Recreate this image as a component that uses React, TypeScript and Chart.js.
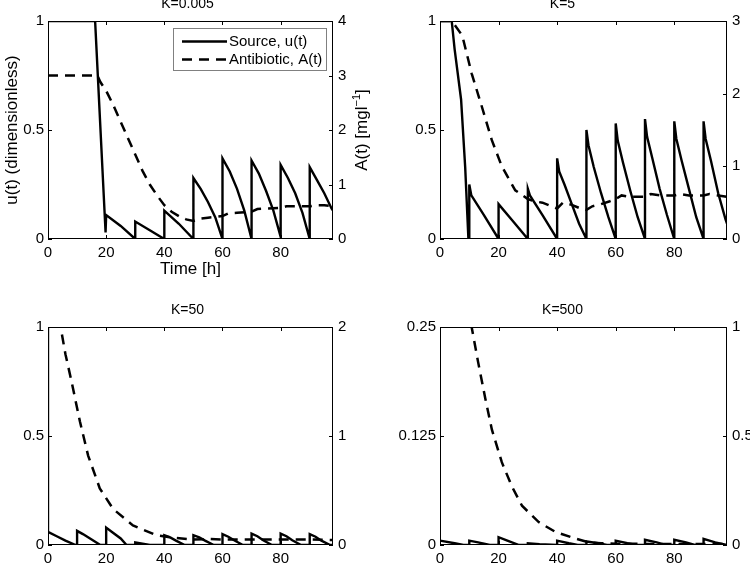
import React, { useEffect, useRef } from "react";
import { Chart, registerables } from "chart.js";

Chart.register(...registerables);

const FONT = "'Liberation Sans', Arial, Helvetica, sans-serif";

// ---------- data ----------
const xTickValues = [0, 20, 40, 60, 80];
const xMax = 98;

const panelTitles = ["K=0.005", "K=5", "K=50", "K=500"];
const leftMax = [1, 1, 1, 0.25];
const rightMax = [4, 3, 2, 1];
const leftTickValues = [
  [0, 0.5, 1],
  [0, 0.5, 1],
  [0, 0.5, 1],
  [0, 0.125, 0.25],
];
const rightTickValues = [
  [0, 1, 2, 3, 4],
  [0, 1, 2, 3],
  [0, 1, 2],
  [0, 0.5, 1],
];
const legendLabels = ["Source, u(t)", "Antibiotic, A(t)"];
const xTitle = "Time [h]";
const yLeftTitle = "u(t) (dimensionless)";
const yRightTitleParts = ["A(t) [mgl", "\u22121", "]"];

// K = 0.005
const uT1 = [0, 16.2, 19.8, 20, 25, 30, 30, 35, 40, 40, 45, 50, 50, 52.5, 55, 57.5, 60, 60, 62.5, 65, 67.5, 70, 70, 72.5, 75, 77.5, 80, 80, 82.5, 85, 87.5, 90, 90, 92.5, 95, 97.5, 98];
const uV1 = [1, 1, 0.03, 0.11, 0.06, 0, 0.08, 0.04, 0, 0.13, 0.07, 0, 0.28, 0.23, 0.17, 0.1, 0, 0.37, 0.31, 0.23, 0.13, 0, 0.36, 0.3, 0.22, 0.13, 0.01, 0.34, 0.28, 0.21, 0.12, 0, 0.33, 0.27, 0.21, 0.14, 0.13];
const aT1 = [0, 17, 18, 20, 22.5, 25, 27.5, 30, 32.5, 35, 37.5, 40, 42.5, 45, 47.5, 50, 52, 55, 60, 62, 65, 70, 72, 75, 80, 82, 85, 90, 92, 95, 98];
const aV1 = [3, 3, 2.88, 2.72, 2.45, 2.15, 1.85, 1.55, 1.25, 1.0, 0.8, 0.62, 0.5, 0.42, 0.36, 0.33, 0.37, 0.39, 0.42, 0.47, 0.48, 0.5, 0.55, 0.56, 0.57, 0.6, 0.6, 0.6, 0.62, 0.62, 0.6];

// K = 5
const uT2 = [0, 4, 5, 7.2, 8.6, 9.7, 10, 10, 10.7, 15, 20, 20, 25, 30, 30, 30.7, 35, 40, 40, 40.7, 42.5, 45, 47.5, 50, 50, 50.7, 52.5, 55, 57.5, 60, 60, 60.7, 62.5, 65, 67.5, 70, 70, 70.7, 72.5, 75, 77.5, 80, 80, 80.7, 82.5, 85, 87.5, 90, 90, 90.7, 92.5, 95, 97.5, 98];
const uV2 = [1, 1, 0.87, 0.64, 0.33, 0, 0, 0.25, 0.2, 0.11, 0, 0.16, 0.08, 0, 0.23, 0.2, 0.11, 0, 0.37, 0.31, 0.25, 0.16, 0.07, 0, 0.5, 0.43, 0.33, 0.21, 0.1, 0, 0.53, 0.45, 0.35, 0.22, 0.1, 0, 0.55, 0.47, 0.37, 0.23, 0.11, 0, 0.54, 0.46, 0.36, 0.23, 0.1, 0, 0.54, 0.46, 0.36, 0.21, 0.09, 0.07];
const aT2 = [0, 4, 5.1, 7.6, 10.8, 14.3, 17.7, 21.1, 25.7, 30, 32, 35, 38, 40, 42, 45, 48, 50, 52, 55, 58, 60, 62, 65, 68, 70, 72, 75, 78, 80, 82, 85, 88, 90, 92, 95, 98];
const aV2 = [3, 3, 2.94, 2.8, 2.28, 1.82, 1.36, 1.0, 0.67, 0.55, 0.52, 0.5, 0.45, 0.42, 0.5, 0.47, 0.42, 0.4, 0.45, 0.48, 0.52, 0.55, 0.6, 0.58, 0.58, 0.58, 0.62, 0.6, 0.6, 0.6, 0.62, 0.6, 0.6, 0.6, 0.62, 0.6, 0.58];

// K = 50
const uT3 = [0, 0, 3, 6, 9.5, 10, 10, 12, 15, 18, 20, 20, 22, 25, 27, 30, 30, 33, 35, 40, 40, 42, 44, 47, 50, 50, 52, 54, 57, 60, 60, 62, 64, 67, 70, 70, 72, 74, 77, 80, 80, 82, 84, 87, 90, 90, 92, 94, 97, 98];
const uV3 = [1, 0.06, 0.04, 0.02, 0, 0, 0.065, 0.05, 0.025, 0, 0, 0.08, 0.06, 0.03, 0, 0, 0.012, 0.005, 0, 0, 0.045, 0.035, 0.02, 0, 0, 0.045, 0.035, 0.02, 0, 0, 0.05, 0.038, 0.022, 0, 0, 0.052, 0.04, 0.022, 0, 0, 0.052, 0.04, 0.022, 0, 0, 0.05, 0.038, 0.02, 0, 0];
const aT3 = [0, 2, 4, 6, 8.1, 11, 13.8, 17.8, 22.4, 29.2, 37.2, 42, 46, 50, 55, 60, 70, 80, 90, 98];
const aV3 = [2.7, 2.35, 2.05, 1.75, 1.5, 1.13, 0.82, 0.52, 0.33, 0.18, 0.09, 0.07, 0.06, 0.05, 0.055, 0.05, 0.05, 0.05, 0.05, 0.045];

// K = 500
const uT4 = [0, 5, 8, 10, 10, 13, 17, 20, 20, 23, 27, 30, 30, 34, 40, 40, 44, 47, 50, 50, 54, 57, 60, 60, 64, 67, 70, 70, 74, 77, 80, 80, 84, 87, 90, 90, 94, 98];
const uV4 = [0.005, 0.002, 0, 0, 0.005, 0.003, 0, 0, 0.009, 0.005, 0, 0, 0.002, 0.001, 0, 0.005, 0.002, 0, 0, 0.004, 0.002, 0, 0, 0.005, 0.002, 0, 0, 0.006, 0.003, 0, 0, 0.006, 0.003, 0, 0, 0.007, 0.003, 0];
const aT4 = [0, 4, 8, 10.8, 13, 15.5, 17.7, 21.1, 24.5, 28, 33.7, 39.4, 46.2, 50.8, 55, 60, 70, 80, 90, 98];
const aV4 = [2.8, 1.9, 1.3, 1.0, 0.84, 0.67, 0.53, 0.38, 0.27, 0.18, 0.105, 0.06, 0.03, 0.012, 0.008, 0.006, 0.005, 0.005, 0.005, 0.005];

const uTimes = [uT1, uT2, uT3, uT4];
const uValues = [uV1, uV2, uV3, uV4];
const aTimes = [aT1, aT2, aT3, aT4];
const aValues = [aV1, aV2, aV3, aV4];

// ---------- layout ----------
const layouts = [
  { left: 0, top: -3, width: 375, height: 285, wL: 48, wR: 42, hX: 43 },
  { left: 375, top: -3, width: 375, height: 285, wL: 65, wR: 23, hX: 43 },
  { left: 0, top: 303, width: 375, height: 261, wL: 48, wR: 42, hX: 19 },
  { left: 375, top: 303, width: 375, height: 261, wL: 65, wR: 23, hX: 19 },
];

const DASH = [10, 7];

const framePlugin = {
  id: "frameTicks",
  afterDatasetsDraw(chart: any) {
    const { ctx, chartArea: a, scales } = chart;
    ctx.save();
    ctx.strokeStyle = "#000";
    ctx.lineWidth = 1;
    ctx.strokeRect(Math.round(a.left) + 0.5, Math.round(a.top) + 0.5, Math.round(a.right - a.left) - 1, Math.round(a.bottom - a.top) - 1);
    const len = 4;
    ctx.beginPath();
    scales.x.ticks.forEach((t: any) => {
      const px = Math.round(scales.x.getPixelForValue(t.value)) + 0.5;
      ctx.moveTo(px, a.bottom);
      ctx.lineTo(px, a.bottom - len);
      ctx.moveTo(px, a.top);
      ctx.lineTo(px, a.top + len);
    });
    scales.y.ticks.forEach((t: any) => {
      const py = Math.round(scales.y.getPixelForValue(t.value)) + 0.5;
      ctx.moveTo(a.left, py);
      ctx.lineTo(a.left + len, py);
    });
    scales.y1.ticks.forEach((t: any) => {
      const py = Math.round(scales.y1.getPixelForValue(t.value)) + 0.5;
      ctx.moveTo(a.right, py);
      ctx.lineTo(a.right - len, py);
    });
    ctx.stroke();
    ctx.restore();
  },
};

const legendPlugin = {
  id: "insideLegend",
  afterDraw(chart: any) {
    const { ctx, chartArea: a } = chart;
    const w = 153;
    const h = 42;
    const x0 = Math.round(a.right - 7 - w);
    const y0 = Math.round(a.top + 7);
    ctx.save();
    ctx.fillStyle = "#fff";
    ctx.fillRect(x0, y0, w, h);
    ctx.strokeStyle = "#808080";
    ctx.lineWidth = 1;
    ctx.strokeRect(x0 + 0.5, y0 + 0.5, w, h);
    const rows = [y0 + 13.5, y0 + 31.5];
    rows.forEach((ry, k) => {
      ctx.beginPath();
      ctx.strokeStyle = "#000";
      ctx.lineWidth = 2.4;
      ctx.setLineDash(k === 0 ? [] : DASH);
      ctx.moveTo(x0 + 9, ry);
      ctx.lineTo(x0 + 54, ry);
      ctx.stroke();
      ctx.setLineDash([]);
      ctx.fillStyle = "#000";
      ctx.font = `15px ${FONT}`;
      ctx.textBaseline = "middle";
      ctx.textAlign = "left";
      ctx.fillText(legendLabels[k], x0 + 56, ry);
    });
    ctx.restore();
  },
};

const rightTitlePlugin = {
  id: "rightTitle",
  afterDraw(chart: any) {
    const { ctx, chartArea: a } = chart;
    const big = `17px ${FONT}`;
    const small = `11px ${FONT}`;
    ctx.save();
    ctx.translate(chart.width - 13, (a.top + a.bottom) / 2);
    ctx.rotate(-Math.PI / 2);
    ctx.font = big;
    const w1 = ctx.measureText(yRightTitleParts[0]).width;
    const w3 = ctx.measureText(yRightTitleParts[2]).width;
    ctx.font = small;
    const w2 = ctx.measureText(yRightTitleParts[1]).width;
    let x = -(w1 + w2 + w3) / 2;
    ctx.fillStyle = "#000";
    ctx.textBaseline = "middle";
    ctx.textAlign = "left";
    ctx.font = big;
    ctx.fillText(yRightTitleParts[0], x, 0);
    x += w1;
    ctx.font = small;
    ctx.fillText(yRightTitleParts[1], x, -5);
    x += w2;
    ctx.font = big;
    ctx.fillText(yRightTitleParts[2], x, 0);
    ctx.restore();
  },
};

function makeConfig(i: number): any {
  const L = layouts[i];
  const pts = (ts: number[], vs: number[]) => ts.map((t, j) => ({ x: t, y: vs[j] }));
  const tickFont = { family: FONT, size: 15 };
  const first = i === 0;
  return {
    type: "line",
    data: {
      datasets: [
        {
          label: legendLabels[0],
          data: pts(uTimes[i], uValues[i]),
          yAxisID: "y",
          borderColor: "#000",
          borderWidth: 2.4,
          pointRadius: 0,
          tension: 0,
          fill: false,
        },
        {
          label: legendLabels[1],
          data: pts(aTimes[i], aValues[i]),
          yAxisID: "y1",
          borderColor: "#000",
          borderWidth: 2.5,
          borderDash: DASH,
          pointRadius: 0,
          tension: 0,
          fill: false,
        },
      ],
    },
    options: {
      animation: false,
      responsive: false,
      events: [],
      layout: { padding: 0 },
      plugins: {
        legend: { display: false },
        tooltip: { enabled: false },
        title: {
          display: true,
          text: panelTitles[i],
          color: "#000",
          font: { family: FONT, size: 14, weight: "normal", lineHeight: 1 },
          padding: { top: 0, bottom: 10 },
        },
      },
      scales: {
        x: {
          type: "linear",
          position: "bottom",
          min: 0,
          max: xMax,
          grid: { display: false, drawTicks: false },
          border: { display: false },
          ticks: {
            color: "#000",
            font: tickFont,
            padding: 5,
            maxRotation: 0,
            autoSkip: false,
            callback: (v: number) => String(v),
          },
          afterBuildTicks: (s: any) => {
            s.ticks = xTickValues.map((v) => ({ value: v }));
          },
          afterFit: (s: any) => {
            s.height = L.hX;
          },
          title: {
            display: first,
            text: xTitle,
            color: "#000",
            font: { family: FONT, size: 17 },
            padding: { top: 0, bottom: 2 },
          },
        },
        y: {
          type: "linear",
          position: "left",
          min: 0,
          max: leftMax[i],
          grid: { display: false, drawTicks: false },
          border: { display: false },
          ticks: {
            color: "#000",
            font: tickFont,
            padding: 4,
            callback: (v: number) => String(v),
          },
          afterBuildTicks: (s: any) => {
            s.ticks = leftTickValues[i].map((v) => ({ value: v }));
          },
          afterFit: (s: any) => {
            s.width = L.wL;
          },
          title: {
            display: first,
            text: yLeftTitle,
            color: "#000",
            font: { family: FONT, size: 17 },
            padding: { top: 2, bottom: 0 },
          },
        },
        y1: {
          type: "linear",
          position: "right",
          min: 0,
          max: rightMax[i],
          grid: { display: false, drawTicks: false },
          border: { display: false },
          ticks: {
            color: "#000",
            font: tickFont,
            padding: 5,
            callback: (v: number) => String(v),
          },
          afterBuildTicks: (s: any) => {
            s.ticks = rightTickValues[i].map((v) => ({ value: v }));
          },
          afterFit: (s: any) => {
            s.width = L.wR;
          },
        },
      },
    },
    plugins: first ? [framePlugin, legendPlugin, rightTitlePlugin] : [framePlugin],
  };
}

function Panel({ index }: { index: number }) {
  const ref = useRef<HTMLCanvasElement>(null);
  useEffect(() => {
    const chart = new Chart(ref.current as HTMLCanvasElement, makeConfig(index));
    return () => chart.destroy();
  }, [index]);
  const L = layouts[index];
  return (
    <canvas
      ref={ref}
      width={L.width}
      height={L.height}
      style={{ position: "absolute", left: L.left, top: L.top, width: L.width, height: L.height, display: "block" }}
    />
  );
}

export default function App() {
  return (
    <div
      style={{
        position: "fixed",
        left: 0,
        top: 0,
        width: 750,
        height: 564,
        overflow: "hidden",
        background: "#fff",
      }}
    >
      {[0, 1, 2, 3].map((i) => (
        <Panel key={i} index={i} />
      ))}
    </div>
  );
}
